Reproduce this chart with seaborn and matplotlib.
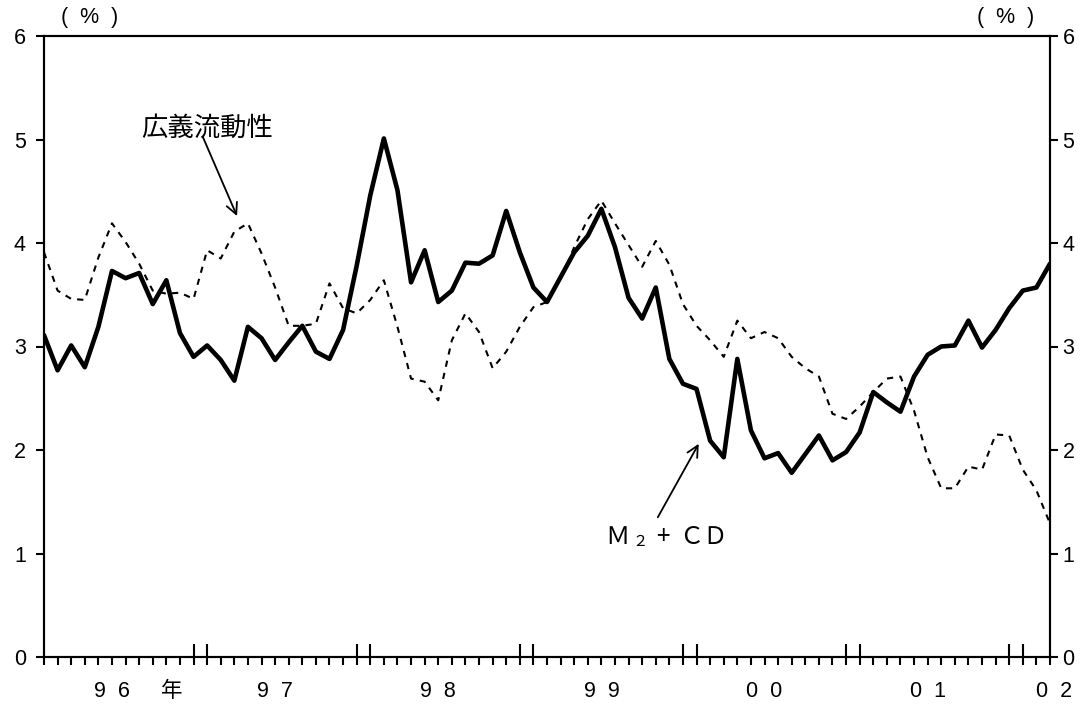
import numpy as np
import pandas as pd
import matplotlib
matplotlib.use('Agg')
import matplotlib.pyplot as plt
import seaborn as sns

# --------------------------
# Data (monthly, Jan 1996 - Mar 2002, % y/y)
# --------------------------
m2cd = [3.11, 2.77, 3.01, 2.80, 3.19, 3.73, 3.66, 3.71, 3.41, 3.64, 3.13, 2.90,
        3.01, 2.87, 2.67, 3.19, 3.08, 2.87, 3.04, 3.20, 2.95, 2.88, 3.16, 3.78,
        4.46, 5.01, 4.51, 3.62, 3.93, 3.43, 3.54, 3.81, 3.80, 3.88, 4.31, 3.91,
        3.57, 3.43, 3.67, 3.91, 4.07, 4.33, 3.96, 3.47, 3.27, 3.57, 2.88, 2.64,
        2.59, 2.09, 1.93, 2.88, 2.19, 1.92, 1.97, 1.78, 1.96, 2.14, 1.90, 1.98,
        2.17, 2.56, 2.46, 2.37, 2.71, 2.92, 3.00, 3.01, 3.25, 2.99, 3.16, 3.37,
        3.54, 3.57, 3.80]
broad = [3.91, 3.54, 3.46, 3.45, 3.86, 4.19, 4.01, 3.80, 3.54, 3.51, 3.52, 3.46,
         3.93, 3.85, 4.11, 4.19, 3.90, 3.57, 3.20, 3.20, 3.22, 3.61, 3.37, 3.32,
         3.45, 3.64, 3.19, 2.69, 2.66, 2.48, 3.06, 3.32, 3.14, 2.79, 2.95, 3.19,
         3.38, 3.43, 3.65, 3.96, 4.23, 4.41, 4.19, 3.98, 3.77, 4.02, 3.79, 3.41,
         3.20, 3.06, 2.90, 3.25, 3.08, 3.14, 3.08, 2.90, 2.79, 2.71, 2.35, 2.30,
         2.42, 2.56, 2.69, 2.71, 2.38, 1.93, 1.63, 1.63, 1.84, 1.81, 2.15, 2.14,
         1.81, 1.61, 1.29]
year_labels = ['9  6', '9  7', '9  8', '9  9', '0  0', '0  1', '0  2']
year_pos = [5, 17, 29, 41, 53, 65, 74.3]
year_break = [11, 12, 23, 24, 35, 36, 47, 48, 59, 60, 71, 72]

df = pd.DataFrame({'month': np.arange(len(m2cd)), 'm2cd': m2cd, 'broad': broad})

# --------------------------
# Plot
# --------------------------
sns.set_theme(style='white')
plt.rcParams['font.family'] = ['Liberation Sans', 'Noto Sans CJK JP', 'DejaVu Sans']
plt.rcParams['text.color'] = 'black'
plt.rcParams['xtick.color'] = 'black'
plt.rcParams['ytick.color'] = 'black'
plt.rcParams['xtick.labelcolor'] = 'black'
plt.rcParams['ytick.labelcolor'] = 'black'
jp = ['Noto Sans CJK JP', 'DejaVu Sans']

fig = plt.figure(figsize=(10.87, 7.08), dpi=100)
ax = fig.add_axes([44 / 1087, 51 / 708, 1006 / 1087, 621 / 708])

sns.lineplot(data=df, x='month', y='broad', ax=ax, color='black', lw=1.5)
ax.lines[-1].set_dashes([3, 3])
sns.lineplot(data=df, x='month', y='m2cd', ax=ax, color='black', lw=3.3)

ax.set_xlim(0, len(m2cd) - 1)
ax.set_ylim(0, 6)
ax.set_xlabel('')
ax.set_ylabel('')
for s in ax.spines.values():
    s.set_linewidth(1.5)
    s.set_color('black')

# month ticks below, year-break ticks above
ax.xaxis.remove_overlapping_locs = False
ax.set_xticks(df['month'])
ax.set_xticks(year_break, minor=True)
ax.tick_params(axis='x', which='major', direction='out', length=6, width=1.5,
               color='black', labelbottom=False, bottom=True)
ax.tick_params(axis='x', which='minor', direction='in', length=9.5, width=1.5,
               color='black', bottom=True)

ax.set_yticks(range(7))
ax.tick_params(axis='y', direction='out', length=6, width=1.5, color='black',
               labelcolor='black', labelsize=15.5, pad=7, left=True)
ax2 = ax.twinx()
ax2.set_ylim(0, 6)
ax2.set_yticks(range(7))
ax2.tick_params(axis='y', direction='out', length=6, width=1.5, color='black',
                labelcolor='black', labelsize=15.5, pad=3, right=True)
for s in ax2.spines.values():
    s.set_linewidth(1.5)
    s.set_color('black')

# year labels
for lab, p in zip(year_labels, year_pos):
    ax.text(p, -0.33, lab, ha='center', va='center', fontsize=15.5, clip_on=False)
ax.text(9.4, -0.33, '年', ha='center', va='center', fontsize=15.5, family=jp,
        clip_on=False)

# units
fig.text(90 / 1087, 1 - 17 / 708, '(  %  )', ha='center', va='center', fontsize=15.5)
fig.text(1006 / 1087, 1 - 17 / 708, '(  %  )', ha='center', va='center', fontsize=15.5)

# annotations
ax.text(12.0, 5.11, '広義流動性', ha='center', va='center', fontsize=19, family=jp)
ax.annotate('', xy=(14.2, 4.26), xytext=(11.7, 5.02),
            arrowprops=dict(arrowstyle='->', lw=1.3, color='black',
                            mutation_scale=20, shrinkA=0, shrinkB=0))
ax.text(41.25, 1.16, 'Ｍ', ha='left', va='center', fontsize=17.5, family=jp)
ax.text(43.3, 1.12, '２', ha='left', va='center', fontsize=11, family=jp)
ax.text(45.0, 1.16, '+', ha='left', va='center', fontsize=17.5, family=jp)
ax.text(46.7, 1.16, 'ＣＤ', ha='left', va='center', fontsize=17.5, family=jp)
ax.annotate('', xy=(48.16, 2.06), xytext=(45.15, 1.35),
            arrowprops=dict(arrowstyle='->', lw=1.3, color='black',
                            mutation_scale=20, shrinkA=0, shrinkB=0))

fig.savefig('out.png', dpi=100)
plt.close(fig)
